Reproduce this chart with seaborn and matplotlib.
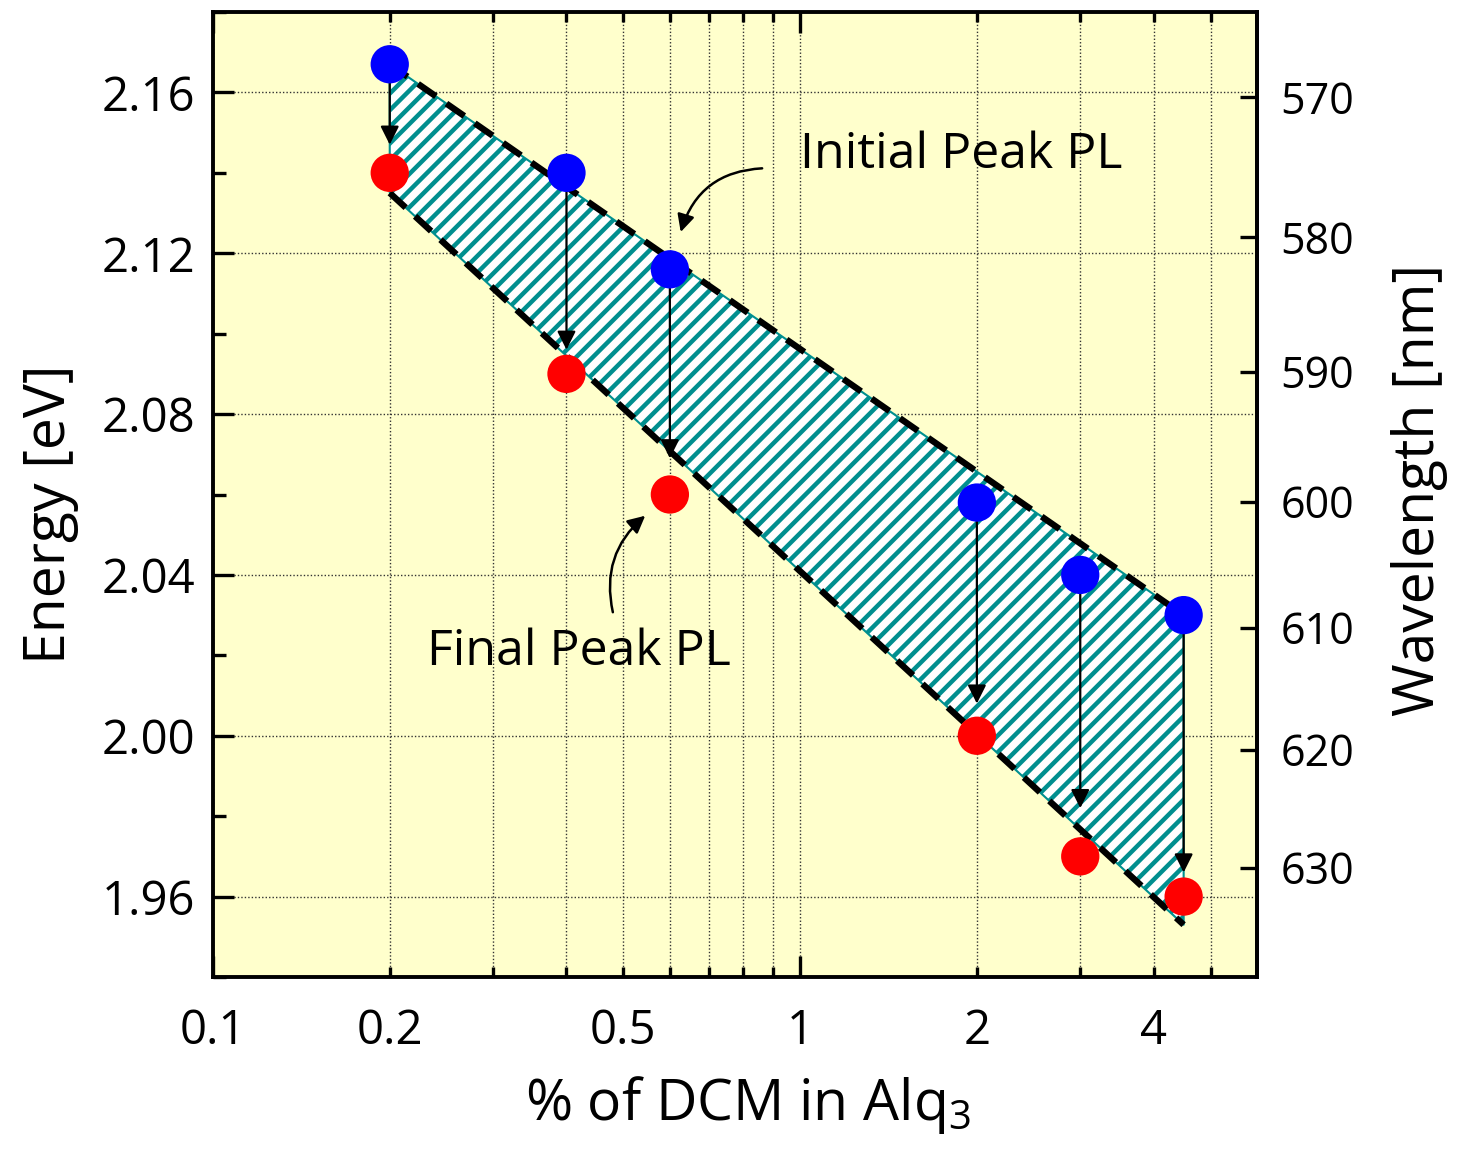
import numpy as np
import pandas as pd
import matplotlib
matplotlib.use("Agg")
import matplotlib.pyplot as plt
import seaborn as sns

# ---------------- data ----------------
conc = [0.2, 0.4, 0.6, 2.0, 3.0, 4.5]
initial_peak = [2.167, 2.140, 2.116, 2.058, 2.040, 2.030]
final_peak = [2.140, 2.090, 2.060, 2.000, 1.970, 1.960]
arrow_tip = [2.147, 2.096, 2.069, 2.008, 1.982, 1.966]

band_x = [0.2, 4.5]
band_upper = [2.167, 2.030]
band_lower = [2.135, 1.953]

x_major = [0.1, 1]
x_minor = [0.2, 0.3, 0.4, 0.5, 0.6, 0.7, 0.8, 0.9, 2, 3, 4, 5]
x_minor_labels = ["0.2", "", "", "0.5", "", "", "", "", "2", "", "4", ""]
y_major = [1.96, 2.00, 2.04, 2.08, 2.12, 2.16]
y_minor = [1.94, 1.98, 2.02, 2.06, 2.10, 2.14, 2.18]
wl_ticks = [570, 580, 590, 600, 610, 620, 630]

# ---------------- style ----------------
sns.set_style("ticks")
plt.rcParams["font.family"] = ["Open Sans", "DejaVu Sans"]
plt.rcParams["mathtext.fontset"] = "custom"
plt.rcParams["mathtext.rm"] = "Open Sans"
plt.rcParams["mathtext.it"] = "Open Sans"
plt.rcParams["hatch.linewidth"] = 3.2
for key in ["text.color", "axes.labelcolor", "xtick.color", "ytick.color",
            "axes.edgecolor"]:
    plt.rcParams[key] = "black"

TEAL = "#008F8F"

fig = plt.figure(figsize=(14.59, 11.52), dpi=100)
ax = fig.add_axes([213 / 1459, 1 - 977 / 1152, 1044 / 1459, 965 / 1152])
ax.set_facecolor("#FFFFCC")
ax.set_xscale("log")
ax.set_xlim(0.1, 6.0)
ax.set_ylim(1.94, 2.18)
ax.set_axisbelow(True)

# hatched band
ax.fill_between(band_x, band_lower, band_upper, facecolor="white",
                edgecolor=TEAL, hatch="//", linewidth=1.5, zorder=2)

# dashed boundary lines
for yy in (band_upper, band_lower):
    ax.plot(band_x, yy, color="black", linewidth=4.6,
            linestyle=(0, (3.4, 2.0)), zorder=3)

# arrows from initial to final
for xv, y0, y1 in zip(conc, initial_peak, arrow_tip):
    ax.annotate("", xy=(xv, y1), xytext=(xv, y0),
                arrowprops=dict(arrowstyle="-|>", color="black", lw=1.6,
                                mutation_scale=28, shrinkA=13, shrinkB=0),
                zorder=4)

# points
pts = pd.DataFrame({"conc": conc * 2,
                    "E": initial_peak + final_peak,
                    "kind": ["Initial"] * len(conc) + ["Final"] * len(conc)})
sns.scatterplot(data=pts, x="conc", y="E", hue="kind",
                palette={"Initial": "#0000FF", "Final": "#FF0000"},
                s=760, linewidth=0, ax=ax, zorder=5, legend=False)

# ticks
ax.set_xticks(x_major)
ax.set_xticklabels(["0.1", "1"])
ax.set_xticks(x_minor, x_minor_labels, minor=True)
ax.set_yticks(y_major)
ax.set_yticklabels([f"{v:.2f}" for v in y_major])
ax.set_yticks(y_minor, minor=True)
ax.tick_params(axis="x", which="both", direction="in", top=True, bottom=True,
               labelsize=34, pad=22, width=2.4)
ax.tick_params(axis="x", which="major", length=15)
ax.tick_params(axis="x", which="minor", length=7)
ax.tick_params(axis="y", which="both", direction="in", left=True, right=False,
               labelsize=34, pad=13, width=2.4)
ax.tick_params(axis="y", which="major", length=15)
ax.tick_params(axis="y", which="minor", length=9)

# grid
ax.grid(axis="x", which="both", linestyle=(0, (1, 1.5)), color="#333333", linewidth=1.0)
ax.grid(axis="y", which="major", linestyle=(0, (1, 1.5)), color="#333333", linewidth=1.0)

for sp in ax.spines.values():
    sp.set_linewidth(2.8)
    sp.set_color("black")

# labels
ax.set_xlabel("% of DCM in Alq$_3$", fontsize=41)
ax.xaxis.set_label_coords(0.512, -0.100)
ax.set_ylabel("Energy [eV]", fontsize=41)
ax.yaxis.set_label_coords(-0.128, 0.48)

# secondary wavelength axis
K, C = 1146.3, 0.1477
def e_to_wl(e):
    e = np.asarray(e, dtype=float)
    return K / (e - C)
def wl_to_e(w):
    w = np.asarray(w, dtype=float)
    with np.errstate(divide="ignore"):
        return K / w + C

sec = ax.secondary_yaxis("right", functions=(e_to_wl, wl_to_e))
sec.set_yticks(wl_ticks)
sec.set_yticklabels([str(v) for v in wl_ticks])
sec.yaxis.set_minor_locator(matplotlib.ticker.NullLocator())
sec.tick_params(axis="y", which="major", direction="in", length=12, width=2.4,
                labelsize=31, pad=17, colors="black")
sec.spines["right"].set_linewidth(2.8)
sec.set_ylabel("Wavelength [nm]", fontsize=41, color="black")
sec.yaxis.set_label_coords(1.128, 0.505, transform=ax.transAxes)

# annotations
ax.text(0.562, 0.852, "Initial Peak PL", transform=ax.transAxes,
        fontsize=36, ha="left", va="center", zorder=6)
ax.annotate("", xy=(0.448, 0.772), xycoords="axes fraction",
            xytext=(0.526, 0.838), textcoords="axes fraction",
            arrowprops=dict(arrowstyle="-|>", color="black", lw=1.8,
                            mutation_scale=26, shrinkA=0, shrinkB=0,
                            connectionstyle="arc3,rad=0.35"), zorder=6)
ax.text(0.205, 0.337, "Final Peak PL", transform=ax.transAxes,
        fontsize=36, ha="left", va="center", zorder=6)
ax.annotate("", xy=(0.414, 0.478), xycoords="axes fraction",
            xytext=(0.383, 0.378), textcoords="axes fraction",
            arrowprops=dict(arrowstyle="-|>", color="black", lw=1.8,
                            mutation_scale=26, shrinkA=0, shrinkB=0,
                            connectionstyle="arc3,rad=-0.3"), zorder=6)

fig.savefig("out.png", dpi=100, facecolor="white")
